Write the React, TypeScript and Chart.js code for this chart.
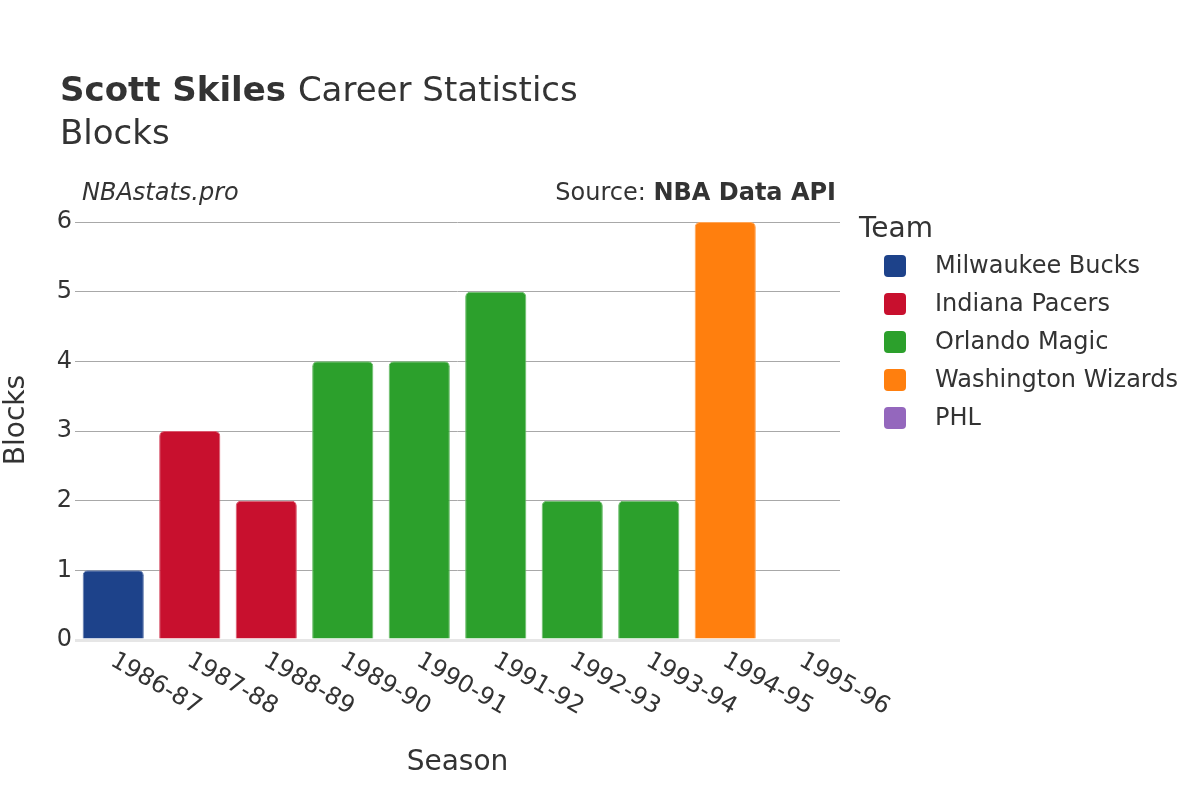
import React, { useEffect, useRef } from "react";
import { Chart, registerables } from "chart.js";

Chart.register(...registerables);

const seasons = ["1986-87", "1987-88", "1988-89", "1989-90", "1990-91", "1991-92", "1992-93", "1993-94", "1994-95", "1995-96"];
const teams = ["Milwaukee Bucks", "Indiana Pacers", "Orlando Magic", "Washington Wizards", "PHL"];
const teamColors = ["#1d428a", "#c8102e", "#2ca02c", "#ff7f0e", "#9467bd"];
const seasonTeam = [0, 1, 1, 2, 2, 2, 2, 2, 3, 4];
const blocks = [1, 3, 2, 4, 4, 5, 2, 2, 6, 0];
const yTicks = [0, 1, 2, 3, 4, 5, 6];

const FONT = "'DejaVu Sans', sans-serif";
const TEXT = "#333333";

const annotPlugin = {
  id: "annot",
  afterDraw(chart: any) {
    const ctx = chart.ctx as CanvasRenderingContext2D;
    const xs = chart.scales.x;
    ctx.save();
    ctx.fillStyle = TEXT;
    ctx.textBaseline = "alphabetic";
    // Title
    ctx.textAlign = "left";
    ctx.font = `bold 34px ${FONT}`;
    const bold = "Scott Skiles";
    ctx.fillText(bold, 60, 101);
    const bw = ctx.measureText(bold + " ").width;
    ctx.font = `34px ${FONT}`;
    ctx.fillText("Career Statistics", 60 + bw, 101);
    ctx.fillText("Blocks", 60, 144);
    // annotations
    ctx.font = `italic 24px ${FONT}`;
    ctx.fillText("NBAstats.pro", 82, 200);
    ctx.textAlign = "right";
    ctx.font = `bold 24px ${FONT}`;
    const src = "NBA Data API";
    ctx.fillText(src, 836, 200);
    const sw = ctx.measureText(src).width;
    ctx.font = `24px ${FONT}`;
    ctx.fillText("Source: ", 836 - sw, 200);
    // axis titles
    ctx.textAlign = "center";
    ctx.font = `28px ${FONT}`;
    ctx.fillText("Season", (chart.chartArea.left + chart.chartArea.right) / 2, 770);
    ctx.save();
    ctx.translate(17, 420);
    ctx.rotate(-Math.PI / 2);
    ctx.textBaseline = "middle";
    ctx.fillText("Blocks", 0, 0);
    ctx.restore();
    // x tick labels rotated
    ctx.font = `24px ${FONT}`;
    ctx.textAlign = "left";
    ctx.textBaseline = "middle";
    seasons.forEach((s, i) => {
      const x = xs.getPixelForValue(i);
      ctx.save();
      ctx.translate(x - 1, 659);
      ctx.rotate(Math.PI / 6);
      ctx.fillText(s, 0, 0);
      ctx.restore();
    });
    // legend
    ctx.textAlign = "left";
    ctx.textBaseline = "alphabetic";
    ctx.font = `28px ${FONT}`;
    ctx.fillText("Team", 859, 237);
    ctx.font = `24px ${FONT}`;
    teams.forEach((t, i) => {
      const cy = 266 + i * 38;
      ctx.fillStyle = teamColors[i];
      ctx.beginPath();
      (ctx as any).roundRect(884, cy - 11, 22, 22, 4);
      ctx.fill();
      ctx.fillStyle = TEXT;
      ctx.textBaseline = "middle";
      ctx.fillText(t, 935, cy + 1);
    });
    ctx.restore();
  },
};

function lighten(hex: string, a: number) {
  const n = parseInt(hex.slice(1), 16);
  const r = (n >> 16) & 255, g = (n >> 8) & 255, b = n & 255;
  const m = (c: number) => Math.round(c + (255 - c) * a);
  return `rgb(${m(r)},${m(g)},${m(b)})`;
}

export default function App() {
  const ref = useRef<HTMLCanvasElement>(null);
  useEffect(() => {
    if (!ref.current) return;
    const datasets = teams.map((t, ti) => ({
      label: t,
      data: blocks.map((v, i) => (seasonTeam[i] === ti ? v : null)),
      backgroundColor: teamColors[ti],
      borderColor: lighten(teamColors[ti], 0.3),
      borderWidth: 1,
      borderRadius: 5,
      borderSkipped: "bottom" as const,
      categoryPercentage: 1,
      barPercentage: 0.8,
    }));
    const chart = new Chart(ref.current, {
      type: "bar",
      data: { labels: seasons, datasets },
      plugins: [annotPlugin],
      options: {
        responsive: false,
        animation: false,
        layout: { padding: { left: 0, top: 222, right: 360, bottom: 0 } },
        plugins: { legend: { display: false }, tooltip: { enabled: false }, title: { display: false } },
        scales: {
          x: {
            stacked: true,
            grid: { display: false, drawTicks: false },
            border: { display: false },
            ticks: { display: false },
            afterFit: (s: any) => { s.height = 160; },
          },
          y: {
            stacked: true,
            min: 0,
            max: 6,
            border: { display: false },
            grid: {
              drawTicks: false,
              color: (c: any) => (c.tick && c.tick.value === 0 ? "#e6e6e6" : "#a8a8a8"),
              lineWidth: (c: any) => (c.tick && c.tick.value === 0 ? 3 : 1),
            },
            afterBuildTicks: (s: any) => { s.ticks = yTicks.map((v) => ({ value: v })); },
            ticks: {
              padding: 3,
              color: TEXT,
              font: { family: FONT, size: 24 },
            },
            afterFit: (s: any) => { s.width = 75; },
          },
        },
      },
    });
    return () => chart.destroy();
  }, []);
  return (
    <div style={{ position: "absolute", left: 0, top: 0, width: 1200, height: 800, background: "#fff" }}>
      <canvas ref={ref} width={1200} height={800} style={{ width: 1200, height: 800 }} />
    </div>
  );
}
